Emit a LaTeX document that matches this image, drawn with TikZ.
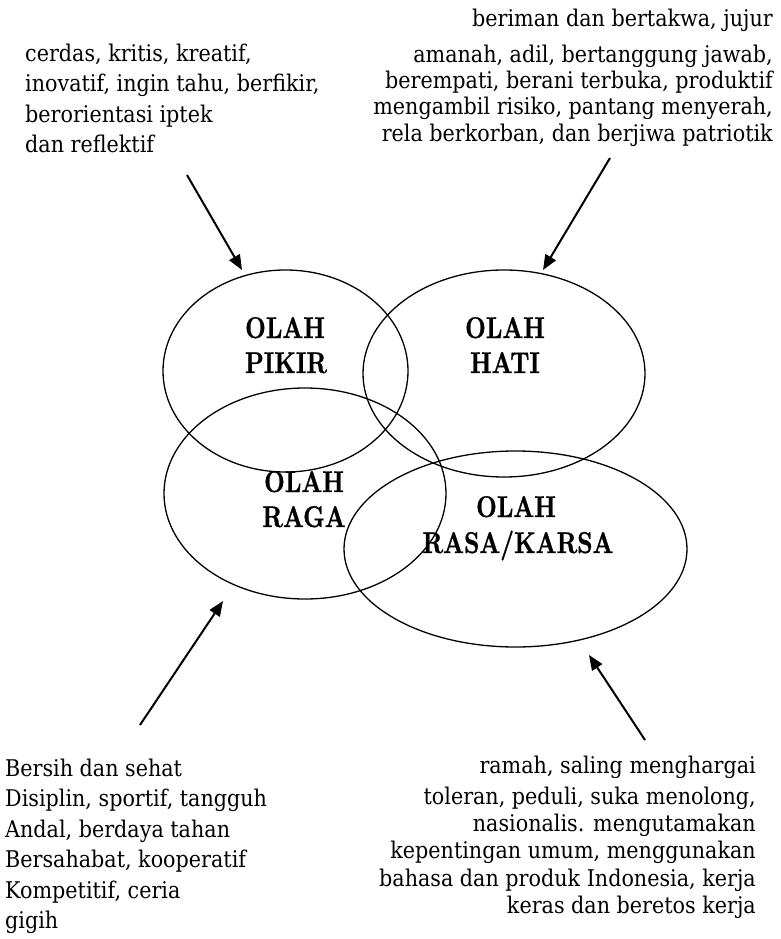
\documentclass[tikz,border=0pt]{standalone}
\usepackage{fontspec}
\setmainfont{DejaVu Serif}[FakeStretch=0.9]
\newfontfamily\olahfont{lmroman10-bold.otf}[FakeStretch=0.8,FakeBold=0.8]
\usetikzlibrary{shapes.geometric,arrows.meta}
\begin{document}
\begin{tikzpicture}[x=1pt,y=-1pt,
  txt/.style={inner sep=0pt, font=\fontsize{23}{30}\selectfont},
  ltxt/.style={txt, anchor=base west},
  rtxt/.style={txt, anchor=base east},
  oval/.style={draw, ellipse, inner sep=0pt, line width=1.3pt},
  olah/.style={inner sep=0pt, anchor=base, font=\olahfont\fontsize{30}{35}\selectfont},
  arr/.style={line width=2pt, -{Triangle[length=15pt,width=12pt]}}]
\useasboundingbox (0,0) rectangle (781,939);

% ellipses
\node[oval, minimum width=245pt, minimum height=202pt] (pikir) at (285.5,371) {};
\node[oval, minimum width=282pt, minimum height=207pt] (hati) at (504,373.5) {};
\node[oval, minimum width=282pt, minimum height=211pt] (raga) at (305,493.5) {};
\node[oval, minimum width=343pt, minimum height=196pt] (rasa) at (515.5,549) {};

% labels
\node[olah] (p1) at (285,338) {OLAH};
\node[olah] (p2) at (286,373) {PIKIR};
\node[olah] (h1) at (505,338) {OLAH};
\node[olah] (h2) at (505,373) {HATI};
\node[olah] (g1) at (304,492) {OLAH};
\node[olah] (g2) at (304,527) {RAGA};
\node[olah] (r1) at (516,517) {OLAH};
\node[olah] (r2) at (518,553) {RASA/KARSA};

% top-left text
\node[ltxt] (tl1) at (25,62) {cerdas, kritis, kreatif,};
\node[ltxt] (tl2) at (25,92) {inovatif, ingin tahu, berfikir,};
\node[ltxt] (tl3) at (25,122) {berorientasi iptek};
\node[ltxt] (tl4) at (25,152) {dan reflektif};

% top-right text
\node[rtxt] (tr1) at (773,26.5) {beriman dan bertakwa, jujur};
\node[rtxt] (tr2) at (773,62.5) {amanah, adil, bertanggung jawab,};
\node[rtxt] (tr3) at (773,89) {berempati, berani terbuka, produktif};
\node[rtxt] (tr4) at (773,115) {mengambil risiko, pantang menyerah,};
\node[rtxt] (tr5) at (773,141) {rela berkorban, dan berjiwa patriotik};

% bottom-left text
\node[ltxt] (bl1) at (5,776) {Bersih dan sehat};
\node[ltxt] (bl2) at (5,806.5) {Disiplin, sportif, tangguh};
\node[ltxt] (bl3) at (5,837) {Andal, berdaya tahan};
\node[ltxt] (bl4) at (5,867.5) {Bersahabat, kooperatif};
\node[ltxt] (bl5) at (5,898) {Kompetitif, ceria};
\node[ltxt] (bl6) at (5,928.5) {gigih};

% bottom-right text
\node[rtxt] (br1) at (756,773) {ramah, saling menghargai};
\node[rtxt] (br2) at (756,804) {toleran, peduli, suka menolong,};
\node[rtxt] (br3) at (756,831.5) {nasionalis. mengutamakan};
\node[rtxt] (br4) at (756,858) {kepentingan umum, menggunakan};
\node[rtxt] (br5) at (756,886.5) {bahasa dan produk Indonesia, kerja};
\node[rtxt] (br6) at (756,913) {keras dan beretos kerja};

% arrows
\coordinate (a1s) at (187,175); \coordinate (a1e) at (242,270);
\coordinate (a2s) at (610,158); \coordinate (a2e) at (543,270);
\coordinate (a3s) at (140,725); \coordinate (a3e) at (223,601);
\coordinate (a4s) at (645,740); \coordinate (a4e) at (589,655);
\draw[arr] (a1s) -- (a1e);
\draw[arr] (a2s) -- (a2e);
\draw[arr] (a3s) -- (a3e);
\draw[arr] (a4s) -- (a4e);
\end{tikzpicture}
\end{document}
